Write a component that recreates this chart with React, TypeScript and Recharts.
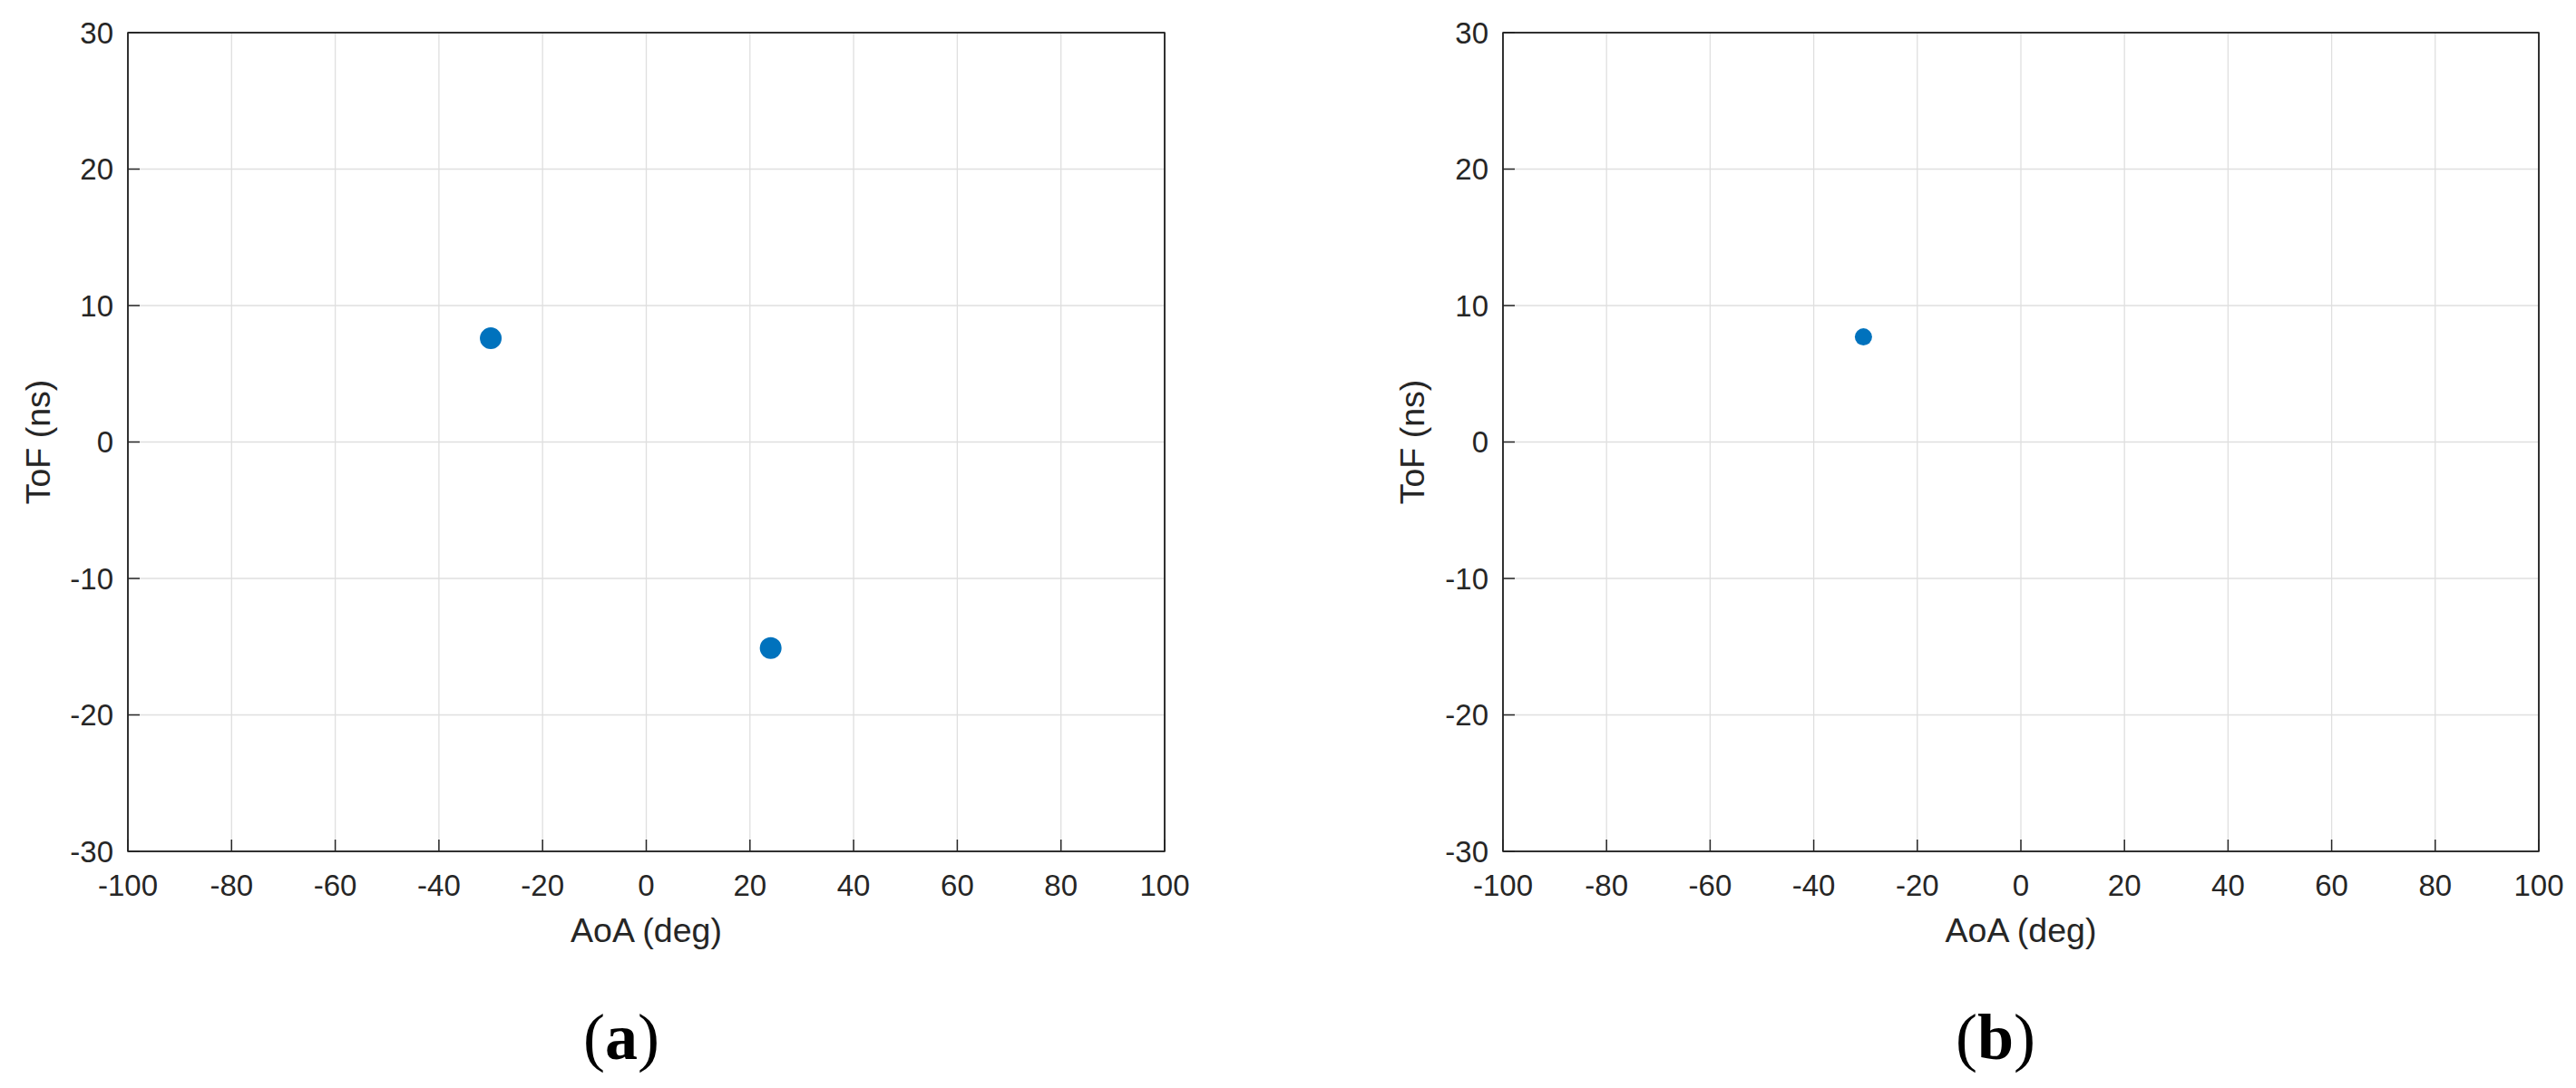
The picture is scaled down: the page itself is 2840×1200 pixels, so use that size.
import React from 'react';
import { ScatterChart, Scatter, XAxis, YAxis, CartesianGrid, ReferenceArea } from 'recharts';

// panel (a): two detected paths
const aoaA = [-30, 24];
const tofA = [7.6, -15.1];
// panel (b): one detected path
const aoaB = [-30.4];
const tofB = [7.7];

const xTicks = [-100, -80, -60, -40, -20, 0, 20, 40, 60, 80, 100];
const yTicks = [-30, -20, -10, 0, 10, 20, 30];

const FONT = '"Liberation Sans", Arial, Helvetica, sans-serif';
const INK = '#262626';
const DOT = '#0072BD';

const toRows = (xs: number[], ys: number[]) => xs.map((x, i) => ({ x, y: ys[i] }));

const YTitle = ({ viewBox, cx }: any) => {
  const cy = viewBox.y + viewBox.height / 2;
  return (
    <text
      x={cx}
      y={cy}
      transform={`rotate(-90 ${cx} ${cy})`}
      textAnchor="middle"
      dominantBaseline="central"
      fill={INK}
      fontSize={37.5}
      fontFamily={FONT}
    >
      ToF (ns)
    </text>
  );
};

function Panel({ rows, r, yAxisWidth, right, titleX }: any) {
  return (
    <ScatterChart
      width={1420}
      height={1100}
      margin={{ top: 35, right, bottom: 61, left: 0 }}
    >
      <CartesianGrid stroke="#dfdfdf" strokeWidth={1.3} />
      <XAxis
        type="number"
        dataKey="x"
        domain={[-100, 100]}
        ticks={xTicks}
        interval={0}
        height={100}
        stroke={INK}
        strokeWidth={1.5}
        tickSize={-13}
        tickMargin={39}
        tick={{ fill: INK, fontSize: 33, fontFamily: FONT }}
        label={{ value: 'AoA (deg)', position: 'insideBottom', offset: 0, fill: INK, fontSize: 37.5, fontFamily: FONT }}
      />
      {/* mirrored axes to close the box (MATLAB "box on") */}
      <XAxis
        xAxisId="top"
        orientation="top"
        type="number"
        dataKey="x"
        domain={[-100, 100]}
        ticks={xTicks}
        interval={0}
        height={1}
        stroke={INK}
        strokeWidth={1.5}
        tickSize={-13}
        tick={false}
      />
      <YAxis
        type="number"
        dataKey="y"
        domain={[-30, 30]}
        ticks={yTicks}
        interval={0}
        width={yAxisWidth}
        stroke={INK}
        strokeWidth={1.5}
        tickSize={-13}
        tickMargin={29}
        tick={{ fill: INK, fontSize: 33, fontFamily: FONT }}
        label={<YTitle cx={titleX} />}
      />
      <YAxis
        yAxisId="right"
        orientation="right"
        type="number"
        dataKey="y"
        domain={[-30, 30]}
        ticks={yTicks}
        interval={0}
        width={1}
        stroke={INK}
        strokeWidth={1.5}
        tickSize={-13}
        tick={false}
      />
      <ReferenceArea x1={-100} x2={100} y1={-30} y2={30} fill="none" stroke={INK} strokeWidth={1.5} />
      <Scatter
        data={rows}
        xAxisId="top"
        yAxisId="right"
        isAnimationActive={false}
        shape={() => <g />}
      />
      <Scatter
        data={rows}
        isAnimationActive={false}
        shape={(p: any) => <circle cx={p.cx} cy={p.cy} r={r} fill={DOT} />}
      />
    </ScatterChart>
  );
}

export default function App() {
  return (
    <div style={{ position: 'absolute', left: 0, top: 0, width: 2840, height: 1200, background: '#fff' }}>
      <div style={{ display: 'flex' }}>
        <Panel rows={toRows(aoaA, tofA)} r={12} yAxisWidth={141} right={135} titleX={42} />
        <Panel rows={toRows(aoaB, tofB)} r={9.5} yAxisWidth={237} right={40} titleX={137} />
      </div>
      <svg width={2840} height={1200} style={{ position: 'absolute', left: 0, top: 0, pointerEvents: 'none' }}>
        <text x={685} y={1168} textAnchor="middle" fontFamily='"Liberation Serif", "Times New Roman", serif' fontSize={72}>
          (<tspan fontWeight="bold">a</tspan>)
        </text>
        <text x={2200} y={1168} textAnchor="middle" fontFamily='"Liberation Serif", "Times New Roman", serif' fontSize={72}>
          (<tspan fontWeight="bold">b</tspan>)
        </text>
      </svg>
    </div>
  );
}
